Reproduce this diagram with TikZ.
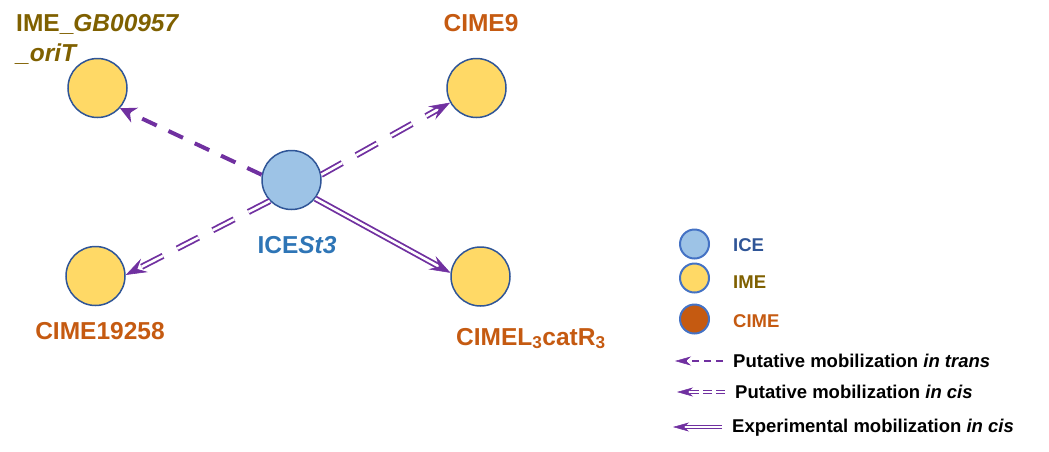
\documentclass[tikz,border=0pt]{standalone}
\usepackage{fontspec}
\setmainfont{Liberation Sans}
\usetikzlibrary{arrows.meta,calc}
\definecolor{purp}{HTML}{7030A0}
\definecolor{iceFill}{HTML}{9DC3E6}
\definecolor{imeFill}{HTML}{FFD966}
\definecolor{cimeFill}{HTML}{C55A11}
\definecolor{rim}{HTML}{2F5597}
\definecolor{legRim}{HTML}{4472C4}
\definecolor{imeText}{HTML}{7F6000}
\definecolor{cimeText}{HTML}{C55A11}
\definecolor{iceText}{HTML}{2E75B6}
\definecolor{iceLeg}{HTML}{2F5597}
\begin{document}
\begin{tikzpicture}[x=1pt,y=-1pt,
  el/.style={circle, draw=rim, line width=1.5pt, minimum size=59pt, inner sep=0pt},
  legel/.style={circle, draw=legRim, line width=2pt, minimum size=29pt, inner sep=0pt},
  lbl/.style={inner sep=0pt, font=\fontsize{24.5}{30}\selectfont\bfseries},
  leglbl/.style={inner sep=0pt, anchor=base west, font=\fontsize{18.5}{22}\selectfont\bfseries},
  transedge/.style={draw=purp, line width=4pt, dash pattern=on 16pt off 13pt,
     -{Stealth[length=16pt,width=16pt,inset=5pt]}},
  dblline/.style={draw=purp, line width=1.8pt, double=white, double distance=2.6pt},
  cisedge/.style={dblline, dash pattern=on 24pt off 16pt, shorten >=10pt},
  expedge/.style={dblline, shorten >=10pt},
  bighead/.style={draw=purp, fill=purp, line width=0.6pt,
     -{Stealth[length=21pt,width=15pt,inset=8pt]}},
  smallhead/.style={draw=purp, fill=purp, line width=0.5pt,
     -{Stealth[length=16pt,width=9pt,inset=5pt]}},
]
\useasboundingbox (0,0) rectangle (1049,451);

% main nodes
\node[el, fill=iceFill] (ice) at (291.5,180) {};
\node[el, fill=imeFill] (ime) at (97.5,88) {};
\node[el, fill=imeFill] (cime9) at (476.5,88) {};
\node[el, fill=imeFill] (cime19) at (95.5,276) {};
\node[el, fill=imeFill] (cimeL) at (480.5,276.5) {};

% labels
\node[lbl, text=imeText, anchor=north west, align=left] (imelbl) at (16,14)
  {IME\_\textit{GB00957}\\\textit{\_oriT}};
\node[lbl, text=cimeText, anchor=base] (cime9lbl) at (481,31) {CIME9};
\node[lbl, text=iceText, anchor=base] (icelbl) at (297,253) {ICE\textit{St3}};
\node[lbl, text=cimeText, anchor=base] (cime19lbl) at (100,339) {CIME19258};
\node[lbl, text=cimeText, anchor=base west] (cimeLlbl) at (456,345)
  {CIMEL\textsubscript{3}catR\textsubscript{3}};

% connectors
\draw[transedge] (ice.170) -- (ime.318);
\draw[cisedge] (ice.10) -- (cime9.209);
\draw[bighead] ($(cime9.209)!6pt!(ice.10)$) -- (cime9.209);
\draw[cisedge] (ice.224) -- (cime19.2);
\draw[bighead] ($(cime19.2)!6pt!(ice.224)$) -- (cime19.2);
\draw[expedge] (ice.-38) -- (cimeL.173);
\draw[bighead] ($(cimeL.173)!6pt!(ice.-38)$) -- (cimeL.173);

% legend
\node[legel, fill=iceFill] (lgice) at (694.5,244) {};
\node[legel, fill=imeFill] (lgime) at (694.5,278) {};
\node[legel, fill=cimeFill] (lgcime) at (694.5,319) {};
\node[leglbl, text=iceLeg] (lgicet) at (733,251) {ICE};
\node[leglbl, text=imeText] (lgimet) at (733,288) {IME};
\node[leglbl, text=cimeText] (lgcimet) at (733,327) {CIME};

\node[leglbl] (lgtrans) at (733,367) {Putative mobilization \textit{in trans}};
\node[leglbl] (lgcis) at (735,398) {Putative mobilization \textit{in cis}};
\node[leglbl] (lgexp) at (732,432) {Experimental mobilization \textit{in cis}};

\coordinate (t1) at (723,361);
\coordinate (t2) at (675,361);
\coordinate (c1) at (725,392);
\coordinate (c2) at (677,392);
\coordinate (e1) at (722,427);
\coordinate (e2) at (673,427);
\draw[draw=purp, line width=1.6pt, dash pattern=on 7pt off 5pt, shorten >=6pt] (t1) -- (t2);
\draw[smallhead] ($(t2)!4pt!(t1)$) -- (t2);
\draw[draw=purp, line width=1.2pt, double=white, double distance=2pt,
  dash pattern=on 9pt off 4pt, shorten >=9pt] (c1) -- (c2);
\draw[smallhead] ($(c2)!4pt!(c1)$) -- (c2);
\draw[draw=purp, line width=1.2pt, double=white, double distance=2pt,
  shorten >=9pt] (e1) -- (e2);
\draw[smallhead] ($(e2)!4pt!(e1)$) -- (e2);
\end{tikzpicture}
\end{document}
